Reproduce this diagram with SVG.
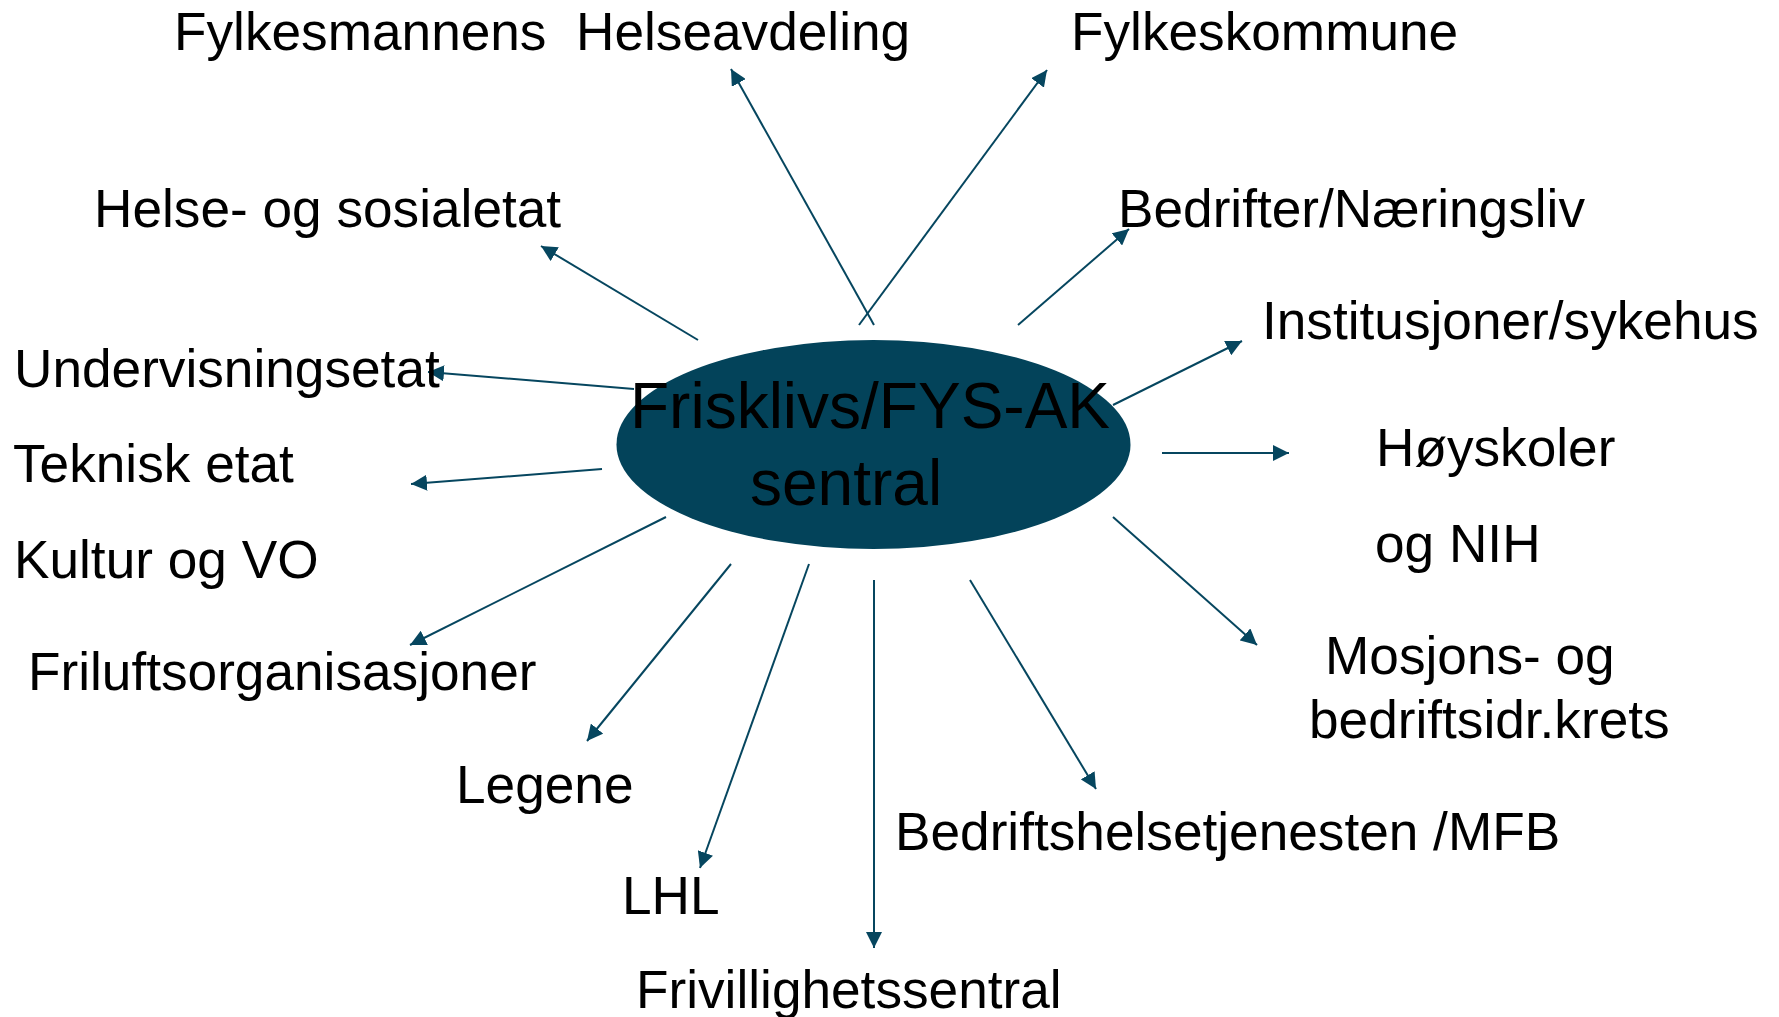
<svg xmlns="http://www.w3.org/2000/svg" width="1779" height="1017" viewBox="0 0 1779 1017">
<style>
.lbl{font-family:"Liberation Sans",Arial,sans-serif;font-size:53.2px;fill:#000;white-space:pre}
.ctr{font-family:"Liberation Sans",Arial,sans-serif;font-size:64px;fill:#000}
.con{stroke:#06465f;stroke-width:2;fill:none;marker-end:url(#ah)}
</style>
<defs>
<marker id="ah" viewBox="0 0 16 16" refX="16" refY="8" markerWidth="16" markerHeight="16" markerUnits="userSpaceOnUse" orient="auto">
<path d="M0,0 L16,8 L0,16 Z" fill="#06465f"/>
</marker>
</defs>
<rect width="1779" height="1017" fill="#fff"/>
<g id="connectors">
<line class="con" x1="874" y1="325" x2="731" y2="69"/>
<line class="con" x1="859" y1="325" x2="1047" y2="70"/>
<line class="con" x1="698" y1="340" x2="541" y2="246"/>
<line class="con" x1="1018" y1="325" x2="1129" y2="229"/>
<line class="con" x1="1113" y1="405" x2="1242" y2="341"/>
<line class="con" x1="634" y1="389" x2="428" y2="372"/>
<line class="con" x1="602" y1="469" x2="411" y2="484"/>
<line class="con" x1="1162" y1="453" x2="1289" y2="453"/>
<line class="con" x1="666" y1="517" x2="410" y2="645"/>
<line class="con" x1="1113" y1="517" x2="1257" y2="645"/>
<line class="con" x1="731" y1="564" x2="587" y2="741"/>
<line class="con" x1="809" y1="564" x2="700" y2="868"/>
<line class="con" x1="874" y1="580" x2="874" y2="948"/>
<line class="con" x1="970" y1="580" x2="1096" y2="789"/>
</g>
<g id="center">
<ellipse cx="873.5" cy="444.5" rx="257" ry="104.5" fill="#03435a"/>
<text class="ctr" x="630" y="428">Frisklivs/FYS-AK</text>
<text class="ctr" x="750" y="505">sentral</text>
</g>
<g id="n-fylkesmannen"><text class="lbl" x="174" y="50">Fylkesmannens  Helseavdeling</text></g>
<g id="n-fylkeskommune"><text class="lbl" x="1071" y="50">Fylkeskommune</text></g>
<g id="n-helse"><text class="lbl" x="94" y="227">Helse- og sosialetat</text></g>
<g id="n-bedrifter"><text class="lbl" x="1118" y="227">Bedrifter/Næringsliv</text></g>
<g id="n-institusjoner"><text class="lbl" x="1262" y="339">Institusjoner/sykehus</text></g>
<g id="n-undervisning"><text class="lbl" x="14" y="387">Undervisningsetat</text></g>
<g id="n-teknisk"><text class="lbl" x="13" y="482">Teknisk etat</text></g>
<g id="n-kultur"><text class="lbl" x="14" y="578">Kultur og VO</text></g>
<g id="n-hoyskoler"><text class="lbl" x="1376" y="466">Høyskoler</text><text class="lbl" x="1375" y="562">og NIH</text></g>
<g id="n-friluft"><text class="lbl" x="28" y="690">Friluftsorganisasjoner</text></g>
<g id="n-mosjon"><text class="lbl" x="1325" y="674">Mosjons- og</text><text class="lbl" x="1309" y="738">bedriftsidr.krets</text></g>
<g id="n-legene"><text class="lbl" x="456" y="803">Legene</text></g>
<g id="n-bht"><text class="lbl" x="895" y="850">Bedriftshelsetjenesten /MFB</text></g>
<g id="n-lhl"><text class="lbl" x="622" y="914">LHL</text></g>
<g id="n-frivillig"><text class="lbl" x="636" y="1008">Frivillighetssentral</text></g>
</svg>
